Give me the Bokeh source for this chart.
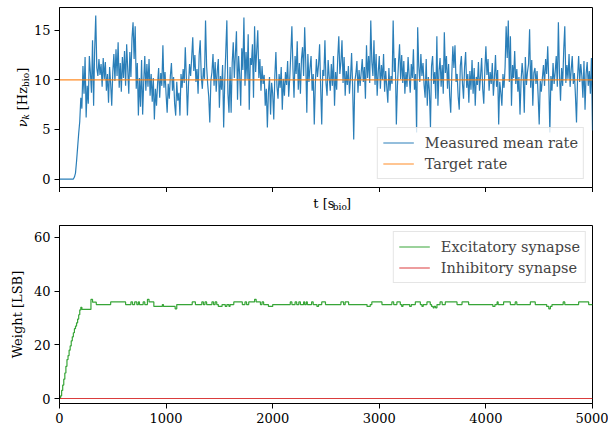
import numpy as np
from bokeh.plotting import figure
from bokeh.models import Range1d, FixedTicker
from bokeh.layouts import column, row
from bokeh.core.properties import value
from bokeh.embed import file_html
from bokeh.resources import INLINE

FONT = "DejaVu Serif"

# ---------------- data ----------------
rate_values = [
    0, 0, 0, 0, 0, 0, 0, 0, 0, 0, 0, 0, 0, 0, 0.2, 0.6, 1.8, 3.2, 4.6, 5.8,
    8.2, 7.1, 11.4, 8.6, 12.3, 6.2, 9.4, 7.6, 12.4, 10.7, 8.7, 14.0, 7.4, 13.1, 16.5, 11.2, 10.4, 12.1, 10.5, 11.6,
    9.3, 12.2, 10.1, 11.8, 8.9, 10.6, 7.7, 11.3, 9.6, 7.4, 10.8, 12.6, 9.9, 13.1, 10.4, 13.8, 9.2, 11.7, 8.8, 12.3,
    10.2, 12.9, 9.4, 13.6, 11.1, 8.6, 12.8, 10.3, 14.2, 15.8, 12.1, 15.4, 9.1, 11.7, 6.4, 10.2, 7.3, 12.0, 6.5, 9.8,
    12.4, 8.9, 11.6, 9.3, 12.1, 8.4, 10.6, 7.8, 10.2, 6.0, 9.1, 7.4, 9.6, 11.2, 8.2, 10.7, 9.4, 13.5, 9.2, 10.8,
    8.5, 6.7, 9.6, 8.1, 10.4, 11.7, 8.9, 10.3, 7.6, 6.4, 9.8, 7.9, 8.7, 6.4, 10.6, 9.2, 11.1, 9.7, 13.3, 10.2,
    6.4, 9.5, 11.6, 10.4, 12.2, 14.3, 10.9, 12.5, 9.8, 11.1, 8.6, 12.5, 14.0, 10.3, 9.1, 11.2, 10.1, 16.0, 11.4, 9.6,
    8.3, 5.7, 9.9, 10.8, 12.6, 9.4, 11.8, 8.8, 10.9, 12.1, 7.2, 10.4, 9.0, 11.5, 5.2, 9.8, 12.9, 16.0, 8.6, 6.7,
    11.3, 6.7, 11.7, 13.8, 10.2, 12.6, 14.9, 8.0, 12.4, 10.6, 7.4, 13.2, 11.0, 16.3, 9.4, 12.8, 10.1, 14.6, 7.0, 12.2,
    11.5, 13.6, 8.2, 15.4, 10.8, 12.9, 15.0, 10.2, 12.1, 8.9, 11.4, 9.6, 10.5, 7.4, 9.1, 5.2, 8.8, 10.3, 6.5, 9.7,
    8.6, 6.0, 10.4, 12.8, 9.3, 8.1, 10.6, 9.2, 11.3, 7.0, 10.1, 8.4, 10.8, 9.5, 11.9, 8.3, 10.2, 12.7, 15.4, 11.1,
    8.2, 12.4, 10.6, 13.9, 9.0, 11.7, 8.6, 12.1, 13.3, 10.4, 15.3, 11.8, 6.7, 12.6, 9.8, 11.2, 12.4, 8.9, 10.6, 5.5,
    9.6, 12.1, 10.3, 11.5, 13.6, 9.2, 5.5, 11.0, 10.4, 14.0, 9.7, 8.4, 12.0, 10.3, 8.9, 11.6, 9.4, 12.4, 7.4, 10.8,
    9.0, 12.2, 14.4, 10.6, 11.8, 14.0, 9.7, 12.3, 8.4, 10.9, 9.5, 11.4, 8.6, 10.2, 12.7, 9.3, 4.0, 9.8, 10.6, 11.9,
    8.7, 11.0, 9.4, 10.7, 12.1, 9.8, 11.3, 8.1, 13.5, 10.2, 12.4, 9.7, 16.0, 11.8, 10.4, 14.0, 9.5, 12.6, 8.4, 10.8,
    12.4, 9.1, 11.5, 10.0, 12.6, 8.8, 10.9, 9.3, 7.7, 11.2, 8.9, 10.4, 9.6, 16.0, 10.8, 12.2, 5.5, 9.4, 11.7, 13.6,
    10.1, 12.5, 9.7, 11.9, 8.6, 10.8, 9.3, 12.3, 10.5, 8.7, 11.6, 10.2, 13.1, 9.0, 10.6, 4.7, 15.3, 11.4, 9.8, 12.6,
    10.4, 11.7, 9.5, 8.2, 12.1, 7.4, 10.3, 8.9, 5.2, 11.4, 12.4, 9.6, 10.8, 8.1, 14.4, 7.4, 10.9, 12.2, 9.3, 11.5,
    8.6, 14.8, 10.7, 12.4, 9.1, 11.6, 8.4, 6.7, 10.5, 13.4, 11.2, 13.5, 9.8, 10.6, 8.3, 7.0, 11.4, 12.4, 9.7, 8.1,
    11.3, 12.8, 9.2, 10.6, 7.7, 10.9, 9.0, 12.0, 8.6, 11.2, 7.4, 10.3, 9.5, 11.8, 8.9, 10.4, 12.2, 9.1, 7.6, 11.0,
    13.4, 10.5, 12.1, 8.9, 10.8, 9.6, 11.7, 8.4, 10.2, 12.5, 9.3, 11.0, 5.5, 9.8, 8.7, 7.4, 10.6, 9.2, 11.3, 15.4,
    12.2, 16.0, 9.8, 14.4, 7.4, 11.5, 10.2, 12.9, 9.6, 11.1, 8.8, 10.3, 6.5, 9.9, 11.7, 10.4, 6.7, 12.3, 9.5, 10.8,
    11.6, 15.1, 9.2, 12.0, 7.4, 10.7, 11.2, 9.6, 10.9, 8.4, 5.5, 9.9, 8.8, 10.2, 11.5, 9.4, 12.1, 10.6, 13.4, 9.8,
    4.7, 10.4, 8.9, 11.7, 9.6, 10.8, 12.4, 9.3, 15.8, 10.6, 7.9, 11.2, 9.4, 13.0, 15.4, 9.7, 11.5, 10.1, 12.6, 9.3,
    11.0, 12.4, 9.6, 10.7, 8.4, 5.7, 10.3, 12.4, 9.8, 11.6, 10.4, 8.2, 11.9, 7.0, 10.6, 11.8, 9.4, 10.9, 8.6, 12.2,
    4.9,
]
T_END = 5000
rate_t = [T_END * i / (len(rate_values) - 1) for i in range(len(rate_values))]

target_t = [0, 5000]
target_v = [10, 10]

ex_t = [0, 10, 20, 30, 40, 50, 60, 70, 80, 90, 100, 110, 120, 130, 140, 150, 160, 170, 180, 190, 200, 210,
        295, 310, 345, 480, 620, 670, 685, 705, 725, 740, 750, 785, 800, 825, 840, 885, 965, 975, 1085, 1100,
        1245, 1275, 1335, 1350, 1365, 1380, 1430, 1445, 1460, 1475, 1490, 1525, 1555, 1570, 1590, 1600, 1635,
        1715, 1740, 1755, 1775, 1830, 1845, 1885, 1900, 1915, 1960, 2000, 2165, 2180, 2210, 2225, 2245, 2260,
        2290, 2300, 2315, 2325, 2365, 2380, 2415, 2430, 2460, 2495, 2640, 2665, 2680, 2712, 2885, 2915, 2930,
        3025, 3118, 3135, 3165, 3197, 3210, 3222, 3285, 3300, 3338, 3385, 3400, 3412, 3447, 3478, 3490, 3505,
        3515, 3528, 3541, 3570, 3590, 3619, 3729, 3776, 3838, 4065, 4085, 4105, 4115, 4166, 4229, 4275, 4290,
        4417, 4463, 4570, 4590, 4605, 4620, 4725, 4740, 4870, 4964, 5000]
ex_w = [0, 1.0, 3.0, 5.0, 7.2, 9.5, 12.0, 14.5, 16.0, 18.0, 19.6, 21.5, 23.0, 24.5, 26.0, 27.0, 28.2, 29.6, 31.2, 33.0, 34.0, 33.2,
        36.9, 35.9, 35.0, 36.0, 35.0, 36.0, 35.0, 36.0, 35.0, 36.0, 35.0, 36.0, 35.0, 36.9, 36.0, 34.3, 35.0, 34.3, 33.4, 35.0,
        36.0, 35.0, 36.0, 35.0, 36.0, 35.0, 36.0, 35.0, 36.0, 35.0, 34.3, 35.0, 34.3, 35.0, 34.3, 35.0, 36.0,
        35.0, 36.0, 35.0, 36.0, 36.9, 36.0, 35.0, 36.0, 35.0, 34.3, 35.0, 36.0, 35.0, 36.0, 35.0, 36.0, 35.0,
        36.0, 35.0, 36.0, 35.0, 36.0, 35.0, 34.3, 35.0, 36.0, 35.0, 36.0, 35.0, 36.0, 35.0, 34.3, 35.0, 36.0,
        35.0, 36.0, 35.0, 36.0, 35.0, 34.3, 35.0, 34.3, 35.0, 36.0, 35.0, 34.3, 35.0, 36.0, 35.0, 34.3, 33.8,
        34.3, 33.8, 35.0, 36.0, 35.0, 36.0, 35.0, 36.0, 35.0, 34.3, 35.0, 36.0, 35.0, 36.0, 35.0, 36.0, 35.0,
        36.0, 35.0, 34.3, 33.4, 34.3, 35.0, 36.0, 35.0, 36.0, 35.0, 35.0]

inh_t = [0, 5000]
inh_w = [0, 0]

x_ticks = [0, 1000, 2000, 3000, 4000, 5000]
rate_ticks = [0, 5, 10, 15]
weight_ticks = [0, 20, 40, 60]

BLUE, ORANGE, GREEN, RED = "#1f77b4", "#ff7f0e", "#2ca02c", "#d62728"

# ---------------- geometry ----------------
LW = 30            # width of the left label column
RW = 608 - LW      # width of the plots column
FL_ABS, FR_ABS = 59, 592
Y1 = (-0.85, 17.3)
Y2 = (-1.86, 64.46)


def style(p, yticks):
    p.background_fill_color = "white"
    p.border_fill_color = "white"
    p.outline_line_color = "black"
    p.outline_line_alpha = 1.0
    p.outline_line_width = 1
    p.xgrid.visible = False
    p.ygrid.visible = False
    for ax in (p.xaxis[0], p.yaxis[0]):
        ax.axis_line_color = "black"
        ax.major_tick_line_color = "black"
        ax.major_tick_out = 5
        ax.major_tick_in = 0
        ax.minor_tick_line_color = None
        ax.major_label_text_font = FONT
        ax.major_label_text_font_size = "13px"
        ax.major_label_text_color = "black"
        ax.major_label_standoff = 4
    p.xaxis[0].ticker = FixedTicker(ticks=x_ticks)
    p.yaxis[0].ticker = FixedTicker(ticks=yticks)


def style_legend(leg, loc, margin):
    leg.location = loc
    leg.margin = margin
    leg.padding = 5
    leg.spacing = 2
    leg.label_text_font = FONT
    leg.label_text_font_size = "14.5px"
    leg.glyph_width = 31
    leg.glyph_height = 19
    leg.label_height = 19
    leg.label_standoff = 11
    leg.border_line_color = "#cccccc"
    leg.border_line_width = 1
    leg.background_fill_alpha = 0.8


def blank(w, h):
    f = figure(width=w, height=h, output_backend="svg", toolbar_location=None,
               x_range=Range1d(0, w), y_range=Range1d(0, h),
               x_axis_type=None, y_axis_type=None,
               min_border_left=0, min_border_right=0, min_border_top=0, min_border_bottom=0)
    f.outline_line_color = None
    f.background_fill_color = "white"
    f.border_fill_color = "white"
    f.xgrid.visible = False
    f.ygrid.visible = False
    return f


def add_pieces(f, h, pieces, start, base, vertical):
    """Place text pieces in pixel coordinates (y measured from the top).
    Each piece: (text, size_px, style, advance_px, baseline_shift_px)."""
    pos = start
    for txt, size, fstyle, adv, shift in pieces:
        if vertical:
            px, py = base + shift, pos
        else:
            px, py = pos, base + shift
        f.text(x=[px], y=[h - py], text=[txt], text_font=value(FONT),
               text_font_size=value(f"{size}px"), text_font_style=value(fstyle),
               text_color="black", text_align="left", text_baseline="alphabetic",
               angle=(np.pi / 2 if vertical else 0))
        pos = pos - adv if vertical else pos + adv


# ---------------- top plot ----------------
P1_H, P1_TOP, P1_BOT = 192, 7, 5
p1 = figure(width=RW, height=P1_H, output_backend="svg", toolbar_location=None,
            x_range=Range1d(0, 5000), y_range=Range1d(*Y1),
            min_border_left=FL_ABS - LW, min_border_right=608 - FR_ABS,
            min_border_top=P1_TOP, min_border_bottom=P1_BOT)
style(p1, rate_ticks)
p1.xaxis[0].major_label_text_font_size = "0px"
p1.xaxis[0].major_label_standoff = 0
p1.xaxis[0].major_label_overrides = {t: "" for t in x_ticks}

p1.line(rate_t, rate_values, color=BLUE, line_width=1.2, line_alpha=0.95, legend_label="Measured mean rate")
p1.line(target_t, target_v, color=ORANGE, line_width=1.1, line_alpha=0.9, legend_label="Target rate")
style_legend(p1.legend[0], "bottom_right", 8)

# ---------------- x label strip ----------------
STRIP_H = 215 - P1_H
strip = blank(RW, STRIP_H)
xlab = [("t [s", 13, "normal", 21.1, 0), ("bio", 9, "normal", 14.2, 3), ("]", 13, "normal", 5.1, 0)]
xlen = sum(p[3] for p in xlab)
add_pieces(strip, STRIP_H, xlab, (FL_ABS + FR_ABS) / 2 - LW - xlen / 2, 203 - P1_H, False)

# ---------------- bottom plot ----------------
p2 = figure(width=RW, height=215, output_backend="svg", toolbar_location=None,
            x_range=Range1d(0, 5000), y_range=Range1d(*Y2),
            min_border_left=FL_ABS - LW, min_border_right=608 - FR_ABS,
            min_border_top=10, min_border_bottom=27)
style(p2, weight_ticks)

p2.step(ex_t, ex_w, mode="after", color=GREEN, line_width=1.2, line_alpha=0.95, legend_label="Excitatory synapse")
p2.line(inh_t, inh_w, color=RED, line_width=1.2, line_alpha=0.9, legend_label="Inhibitory synapse")
style_legend(p2.legend[0], "top_right", 6)

# ---------------- left label column ----------------
left = blank(LW, 430)
ylab = [("ν", 13, "italic", 7.8, 0), ("k", 9, "italic", 5.2 + 4.1, 3),
        ("[Hz", 13, "normal", 23.2, 0), ("bio", 9, "normal", 14.2, 3), ("]", 13, "normal", 5.1, 0)]
ylen = sum(p[3] for p in ylab)
add_pieces(left, 430, ylab, 97 + ylen / 2, 22, True)
left.text(x=[17], y=[430 - 314], text=["Weight [LSB]"], text_font=value(FONT),
          text_font_size=value("13px"), text_color="black", text_align="center",
          text_baseline="middle", angle=np.pi / 2)

layout = row(left, column(p1, strip, p2))
open("out.html", "w").write(file_html(layout, INLINE))
